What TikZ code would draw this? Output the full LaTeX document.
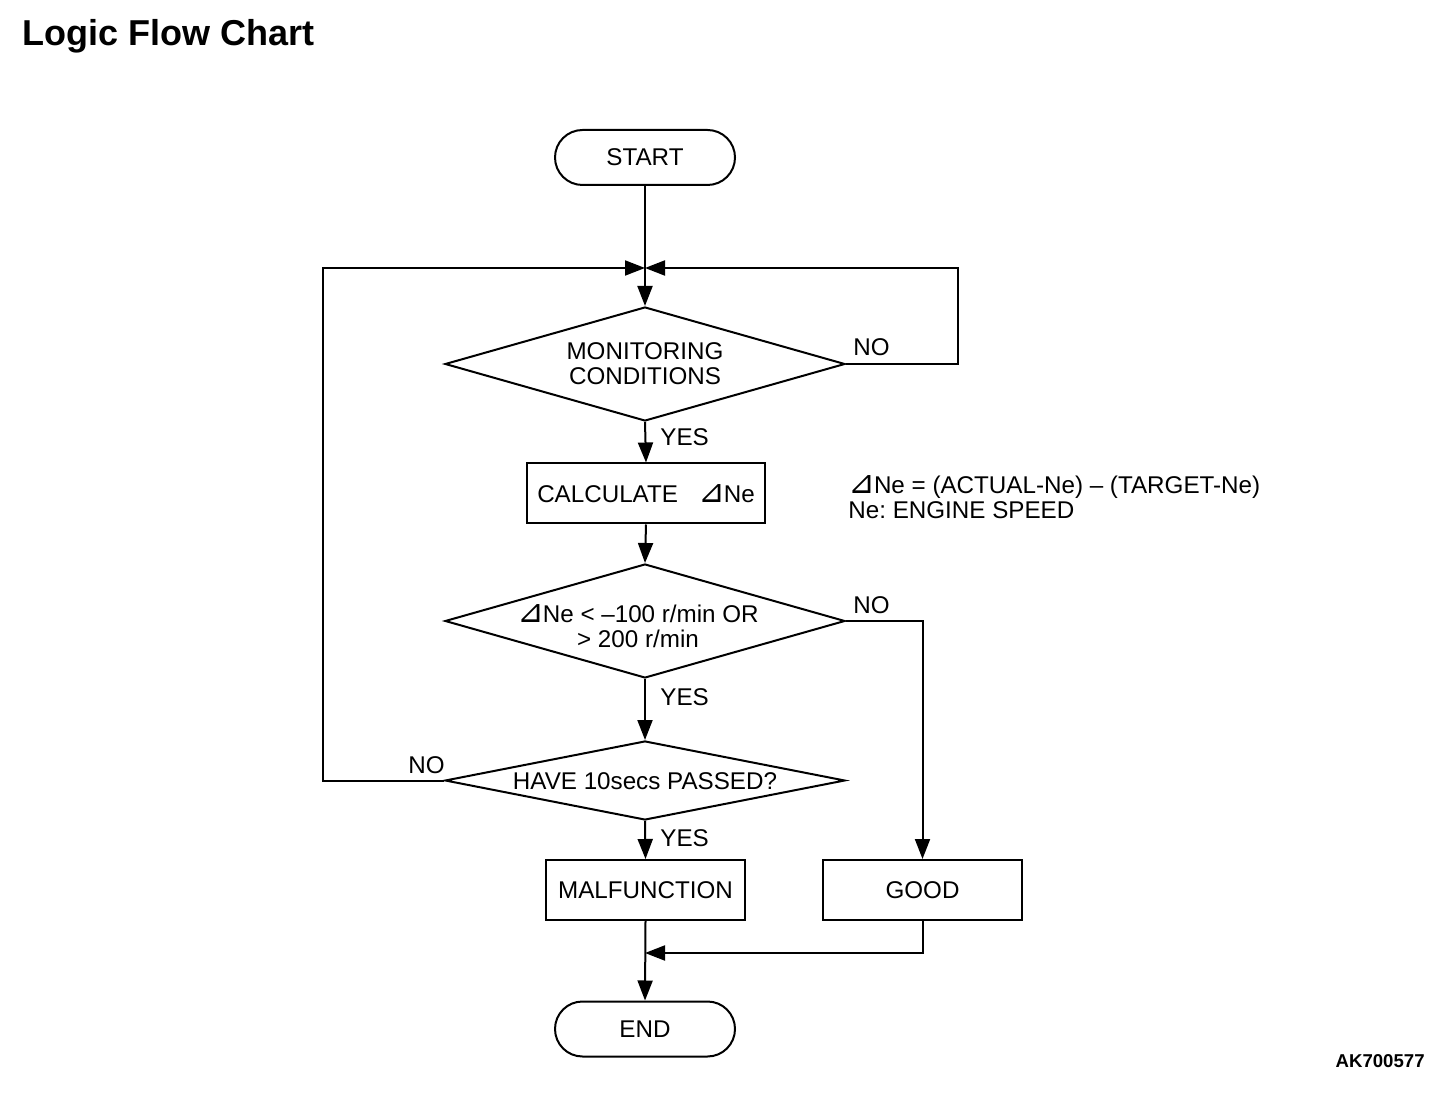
\documentclass[tikz,border=0pt]{standalone}
\usepackage{fontspec}
\setmainfont{Liberation Sans}
\newfontfamily\djv{DejaVu Sans}
\usetikzlibrary{shapes.geometric,shapes.misc,arrows.meta}
\newcommand{\dNe}{{\fontsize{16}{12}\djv\symbol{"22BF}}\kern-0.6pt Ne}
\begin{document}
\begin{tikzpicture}[x=0.5pt,y=-0.5pt,
  every node/.style={font=\fontsize{12.1}{12.4}\selectfont\frenchspacing, inner sep=0pt},
  line/.style={line width=1pt},
  arr/.style={line width=1pt,-{Triangle[length=10pt,width=7.5pt]}},
  term/.style={draw,line width=1pt,rounded rectangle,minimum width=90pt,minimum height=27.5pt},
  proc/.style={draw,line width=1pt,rectangle,minimum height=30pt},
  dec/.style={draw,line width=1pt,diamond,aspect=1,minimum width=200pt},
  lbl/.style={anchor=west}
]
\useasboundingbox (0,0) rectangle (1456,1106);
\node[anchor=base west,font=\fontsize{18}{20}\selectfont\bfseries] (title) at (22,46) {Logic Flow Chart};
\node[anchor=base east,font=\fontsize{9.3}{10}\selectfont\bfseries] (code) at (1425,1067) {AK700577};

\node[term] (start) at (645,157.5) {START};
\coordinate (j1) at (645,268);
\node[dec,minimum height=57pt] (d1) at (645,364) {};
\node[align=center] (t1) at (645,364) {MONITORING\\CONDITIONS};
\node[proc,minimum width=119pt] (calc) at (646,493.5) {CALCULATE\ \ \ \dNe};
\node[dec,minimum height=57pt] (d2) at (645,621) {};
\node[align=center] (t2) at (638,626) {\dNe\ < –100 r/min OR\\> 200 r/min};
\node[dec,minimum height=39.5pt] (d3) at (645,780.5) {};
\node (t3) at (645,781) {HAVE 10secs PASSED?};
\node[proc,minimum width=99.5pt] (mal) at (645.5,890) {MALFUNCTION};
\node[proc,minimum width=99.5pt] (good) at (922.5,890) {GOOD};
\node[term] (end) at (645,1029) {END};
\coordinate (j2) at (645,953);

\node[anchor=west,align=left] (note) at (848,497) {\dNe\ = (ACTUAL-Ne) – (TARGET-Ne)\\Ne: ENGINE SPEED};

% connectors
\draw[line] (start.south) -- (j1);
\draw[arr] (j1) -- (d1.north);
\draw[arr] (d1.east) -- (958,364) -- (958,268) -- (j1);
\draw[arr] (d3.west) -- (323,780.5) -- (323,268) -- (j1);
\draw[arr] (d1.south) -- (calc.north);
\draw[arr] (calc.south) -- (d2.north);
\draw[arr] (d2.east) -| (good.north);
\draw[arr] (d2.south) -- (d3.north);
\draw[arr] (d3.south) -- (mal.north);
\draw[arr] (mal.south) -- (end.north);
\draw[arr] (good.south) |- (j2);

% labels
\node[lbl] (no1) at (853,347) {NO};
\node[lbl] (yes1) at (660,437) {YES};
\node[lbl] (no2) at (853,605) {NO};
\node[lbl] (yes2) at (660,697) {YES};
\node[lbl] (no3) at (408,765) {NO};
\node[lbl] (yes3) at (660,838) {YES};
\end{tikzpicture}
\end{document}
